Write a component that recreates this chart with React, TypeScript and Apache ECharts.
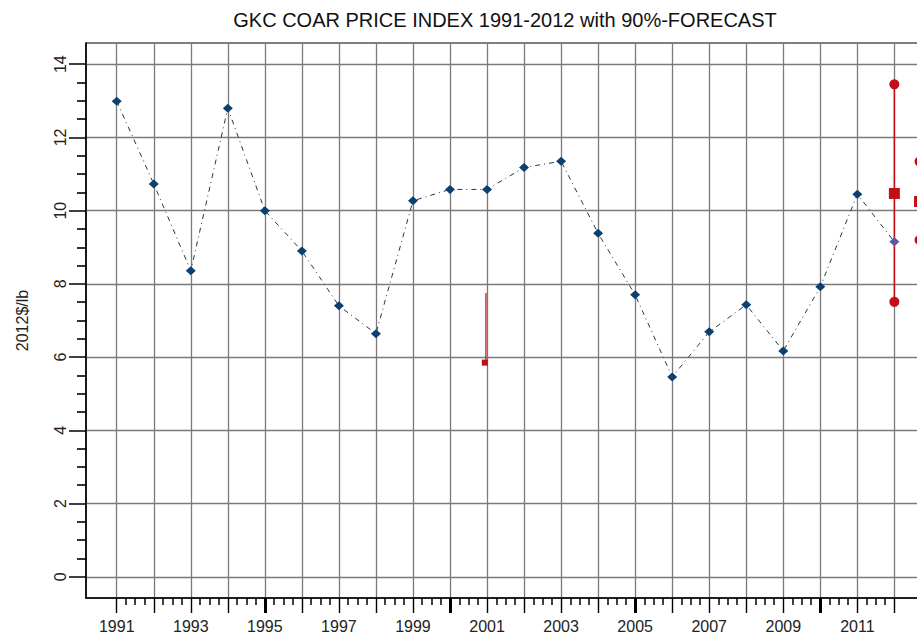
import React, { useEffect, useRef } from "react";
import * as echarts from "echarts";

// ---- data ----
const years = [1991, 1992, 1993, 1994, 1995, 1996, 1997, 1998, 1999, 2000, 2001, 2002, 2003, 2004, 2005, 2006, 2007, 2008, 2009, 2010, 2011, 2012];
const priceIndex = [12.99, 10.73, 8.36, 12.8, 10.0, 8.9, 7.4, 6.64, 10.27, 10.58, 10.58, 11.18, 11.35, 9.38, 7.7, 5.46, 6.69, 7.43, 6.17, 7.92, 10.45, 9.15];

const forecastYear = 2012;
const forecastHigh = 13.45;
const forecastMid = 10.47;
const forecastLow = 7.51;

const nextYearX = 2012.68;
const nextHigh = 11.34;
const nextMid = 10.25;
const nextLow = 9.2;

const stray2001X = 2000.97;
const stray2001Top = 7.75;
const stray2001Bottom = 5.85;

const xMajorTicks = years.slice();
const xLabelYears = [1991, 1993, 1995, 1997, 1999, 2001, 2003, 2005, 2007, 2009, 2011];
const xBoldTicks = [1995, 2000, 2005, 2010];
const yMajorTicks = [0, 2, 4, 6, 8, 10, 12, 14];
const xMinorTicks = [
  1991.25, 1991.5, 1991.75, 1992.25, 1992.5, 1992.75, 1993.25, 1993.5, 1993.75,
  1994.25, 1994.5, 1994.75, 1995.25, 1995.5, 1995.75, 1996.25, 1996.5, 1996.75,
  1997.25, 1997.5, 1997.75, 1998.25, 1998.5, 1998.75, 1999.25, 1999.5, 1999.75,
  2000.25, 2000.5, 2000.75, 2001.25, 2001.5, 2001.75, 2002.25, 2002.5, 2002.75,
  2003.25, 2003.5, 2003.75, 2004.25, 2004.5, 2004.75, 2005.25, 2005.5, 2005.75,
  2006.25, 2006.5, 2006.75, 2007.25, 2007.5, 2007.75, 2008.25, 2008.5, 2008.75,
  2009.25, 2009.5, 2009.75, 2010.25, 2010.5, 2010.75, 2011.25, 2011.5, 2011.75,
];
const yMinorTicks = [0.5, 1, 1.5, 2.5, 3, 3.5, 4.5, 5, 5.5, 6.5, 7, 7.5, 8.5, 9, 9.5, 10.5, 11, 11.5, 12.5, 13, 13.5];

const title = "GKC COAR PRICE INDEX 1991-2012 with 90%-FORECAST";
const yName = "2012$/lb";

// ---- layout constants ----
const GRID_LEFT = 86;
const GRID_TOP = 43;
const GRID_H = 555;
const GRID_W = 881;
const PX_PER_YEAR = 37.03;
const X_MIN = 1990.17;
const X_MAX = X_MIN + GRID_W / PX_PER_YEAR;
const Y_MIN = -0.58;
const Y_MAX = 14.58;

const FONT = "Liberation Sans, Arial, sans-serif";
const BLUE = "#0d3f70";
const RED = "#c20e16";
const GRIDC = "#7a7a7a";
const TICKC = "#000000";

export default function App() {
  const ref = useRef<HTMLDivElement>(null);
  useEffect(() => {
    if (!ref.current) return;
    const chart = echarts.init(ref.current, null, { renderer: "svg" });
    const baseX = {
      type: "value",
      gridIndex: 0,
      position: "bottom",
      min: X_MIN,
      max: X_MAX,
    };
    const option: any = {
      animation: false,
      backgroundColor: "#ffffff",
      title: {
        text: title,
        left: 500,
        top: 5,
        textAlign: "center",
        textStyle: { fontFamily: FONT, fontSize: 20, fontWeight: "normal", color: "#111" },
      },
      grid: {
        left: GRID_LEFT,
        top: GRID_TOP,
        width: GRID_W,
        height: GRID_H,
        show: true,
        borderColor: "#000",
        borderWidth: 1.2,
        backgroundColor: "transparent",
      },
      xAxis: [
        {
          ...baseX,
          axisLine: { show: true, onZero: false, lineStyle: { color: "#000", width: 1.5 } },
          axisTick: { show: true, customValues: xMajorTicks, length: 15, lineStyle: { color: "#000", width: 1.4 } },
          axisLabel: {
            show: true,
            customValues: xLabelYears,
            margin: 20,
            fontSize: 16,
            fontFamily: FONT,
            color: "#222",
            formatter: (v: number) => String(Math.round(v)),
          },
          splitLine: { show: true, lineStyle: { color: GRIDC, width: 1.3 } },
        },
        {
          ...baseX,
          axisLine: { show: false, onZero: false },
          axisLabel: { show: false },
          splitLine: { show: false },
          axisTick: { show: true, customValues: xBoldTicks, length: 15, lineStyle: { color: "#000", width: 3 } },
        },
        {
          ...baseX,
          axisLine: { show: false, onZero: false },
          axisLabel: { show: false },
          splitLine: { show: false },
          axisTick: { show: true, customValues: xMinorTicks, length: 7, lineStyle: { color: TICKC, width: 1.5 } },
        },
      ],
      yAxis: [
        {
          type: "value",
          min: Y_MIN,
          max: Y_MAX,
          position: "left",
          name: yName,
          nameLocation: "middle",
          nameGap: 56,
          nameRotate: 90,
          nameTextStyle: { fontFamily: FONT, fontSize: 16, color: "#222" },
          axisLine: { show: true, onZero: false, lineStyle: { color: "#000", width: 1.5 } },
          axisTick: { show: true, customValues: yMajorTicks, length: 17, lineStyle: { color: "#000", width: 1.5 } },
          axisLabel: {
            show: true,
            customValues: yMajorTicks,
            rotate: 90,
            margin: 18,
            fontSize: 16,
            fontFamily: FONT,
            color: "#222",
            formatter: (v: number) => String(Math.round(v)),
          },
          splitLine: { show: true, lineStyle: { color: GRIDC, width: 1.3 } },
        },
        {
          type: "value",
          min: Y_MIN,
          max: Y_MAX,
          position: "left",
          axisLine: { show: false, onZero: false },
          axisLabel: { show: false },
          splitLine: { show: false },
          axisTick: { show: true, customValues: yMinorTicks, length: 9, lineStyle: { color: TICKC, width: 1.6 } },
        },
      ],
      series: [
        {
          type: "line",
          name: "price",
          data: years.map((y, i) => {
            const item: any = { value: [y, priceIndex[i]] };
            if (y === forecastYear) item.itemStyle = { color: "#5a56a8" };
            return item;
          }),
          symbol: "diamond",
          symbolSize: [10, 9],
          itemStyle: { color: BLUE, opacity: 1 },
          lineStyle: { color: "#26384c", width: 1, type: [5, 4, 1, 4] },
          z: 5,
        },
        {
          type: "line",
          name: "forecastRange",
          data: [
            [forecastYear, forecastHigh],
            [forecastYear, forecastLow],
          ],
          symbol: "none",
          lineStyle: { color: RED, width: 1.5, opacity: 1 },
          z: 3,
        },
        {
          type: "scatter",
          name: "forecastBounds",
          data: [
            [forecastYear, forecastHigh],
            [forecastYear, forecastLow],
            [nextYearX, nextHigh],
            [nextYearX, nextLow],
          ],
          symbol: "circle",
          symbolSize: 10,
          itemStyle: { color: RED, opacity: 1 },
          z: 4,
        },
        {
          type: "scatter",
          name: "forecastMid",
          data: [
            [forecastYear, forecastMid],
            [nextYearX, nextMid],
          ],
          symbol: "rect",
          symbolSize: 11,
          itemStyle: { color: RED, opacity: 1 },
          z: 4,
        },
        {
          type: "line",
          name: "stray2001",
          data: [
            [stray2001X, stray2001Top],
            [stray2001X, stray2001Bottom],
          ],
          symbol: "none",
          lineStyle: { color: RED, width: 1.2, opacity: 1 },
          z: 3,
        },
        {
          type: "scatter",
          name: "stray2001Mark",
          data: [[stray2001X - 0.03, stray2001Bottom]],
          symbol: "rect",
          symbolSize: 6,
          itemStyle: { color: RED, opacity: 1 },
          z: 4,
        },
      ],
    };
    chart.setOption(option);
    return () => chart.dispose();
  }, []);
  return (
    <div style={{ position: "fixed", left: 0, top: 0, width: 917, height: 642, overflow: "hidden", background: "#fff" }}>
      <div ref={ref} style={{ width: 1010, height: 642 }} />
    </div>
  );
}
